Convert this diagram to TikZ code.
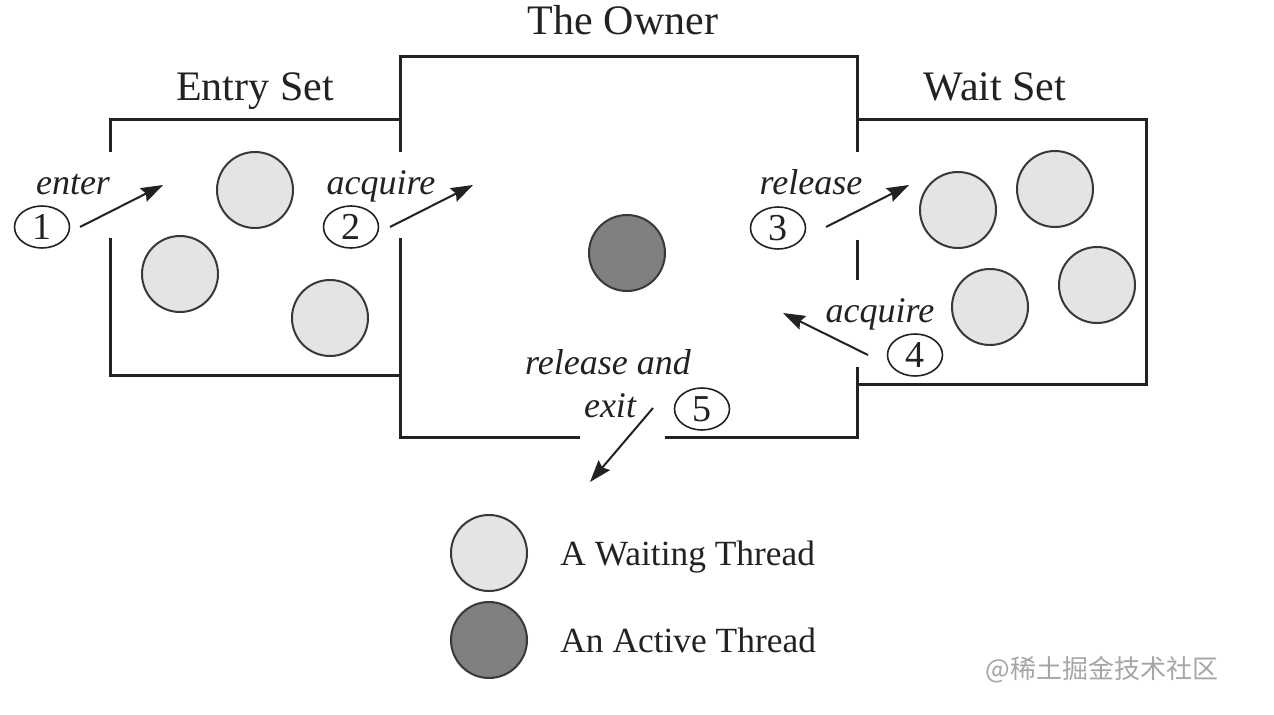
\documentclass[tikz,border=0pt]{standalone}
\usepackage{fontspec}
\setmainfont{Liberation Serif}
\newfontfamily\cjk{Noto Sans CJK SC}
\usetikzlibrary{shapes.geometric,arrows.meta}
\definecolor{ink}{HTML}{222222}
\definecolor{wfill}{HTML}{E4E4E4}
\definecolor{afill}{HTML}{808080}
\begin{document}
\begin{tikzpicture}[x=0.5pt,y=-0.5pt,
  wall/.style={line width=1.5pt, draw=ink},
  thread/.style={circle, draw=ink!90, line width=1pt, minimum size=38pt, inner sep=0pt},
  waiting/.style={thread, fill=wfill},
  active/.style={thread, fill=afill},
  numbox/.style={ellipse, draw=ink, line width=0.8pt, minimum width=27.5pt, minimum height=21pt, inner sep=0pt, text=ink, font=\fontsize{19}{22}\selectfont},
  title/.style={anchor=base, text=ink, inner sep=0pt, font=\fontsize{21}{25}\selectfont},
  act/.style={anchor=base, text=ink, inner sep=0pt, font=\itshape\fontsize{18}{21}\selectfont},
  legend/.style={anchor=base west, text=ink, inner sep=0pt, font=\fontsize{17.7}{21}\selectfont},
  flow/.style={draw=ink, line width=1pt, -{Stealth[length=11pt,width=7.5pt,inset=1.5pt]}}
]
\useasboundingbox (0,0) rectangle (1274,715);
\fill[white] (0,0) rectangle (1274,715);

% walls
\draw[wall] (110,152) -- (110,120) -- (400,120);
\draw[wall] (110,238) -- (110,376) -- (400,376);
\draw[wall] (400,152) -- (400,57) -- (857,57) -- (857,152);
\draw[wall] (400,238) -- (400,438) -- (580,438);
\draw[wall] (665,438) -- (857,438) -- (857,367);
\draw[wall] (857,240) -- (857,280);
\draw[wall] (857,120) -- (1146,120) -- (1146,385) -- (857,385);

% titles
\node[title] (towner) at (623,35) {The Owner};
\node[title] (tentry) at (255,101) {Entry Set};
\node[title] (twait) at (995,101) {Wait Set};

% threads
\node[waiting] (e1) at (255,190) {};
\node[waiting] (e2) at (180,274) {};
\node[waiting] (e3) at (330,318) {};
\node[active] (own) at (627,253) {};
\node[waiting] (w1) at (958,210) {};
\node[waiting] (w2) at (1055,189) {};
\node[waiting] (w3) at (990,307) {};
\node[waiting] (w4) at (1097,285) {};

% numbered steps
\node[numbox] (n1) at (42,227) {1};
\node[numbox] (n2) at (351,227) {2};
\node[numbox] (n3) at (778,228) {3};
\node[numbox] (n4) at (915,355) {4};
\node[numbox] (n5) at (702,409) {5};

% action labels
\node[act] (l1) at (73,195) {enter};
\node[act] (l2) at (381,195) {acquire};
\node[act] (l3) at (811,195) {release};
\node[act] (l4) at (880,323) {acquire};
\node[act] (l5a) at (608,375) {release and};
\node[act] (l5b) at (610,418) {exit};

% arrow ends
\coordinate (a1s) at (80,227);  \coordinate (a1e) at (163,185);
\coordinate (a2s) at (390,227); \coordinate (a2e) at (473,185);
\coordinate (a3s) at (826,227); \coordinate (a3e) at (909,185);
\coordinate (a4s) at (868,355); \coordinate (a4e) at (783,313);
\coordinate (a5s) at (653,408); \coordinate (a5e) at (590,482);
\draw[flow] (a1s) -- (a1e);
\draw[flow] (a2s) -- (a2e);
\draw[flow] (a3s) -- (a3e);
\draw[flow] (a4s) -- (a4e);
\draw[flow] (a5s) -- (a5e);

% legend
\node[waiting] (lw) at (489,553) {};
\node[active] (la) at (489,640) {};
\node[legend] (lwt) at (560,566) {A Waiting Thread};
\node[legend] (lat) at (560,652) {An Active Thread};

% watermark
\node[anchor=base west, inner sep=0pt, text=black!35, font=\cjk\fontsize{13}{16}\selectfont] (wm) at (985,678) {@稀土掘金技术社区};
\end{tikzpicture}
\end{document}
